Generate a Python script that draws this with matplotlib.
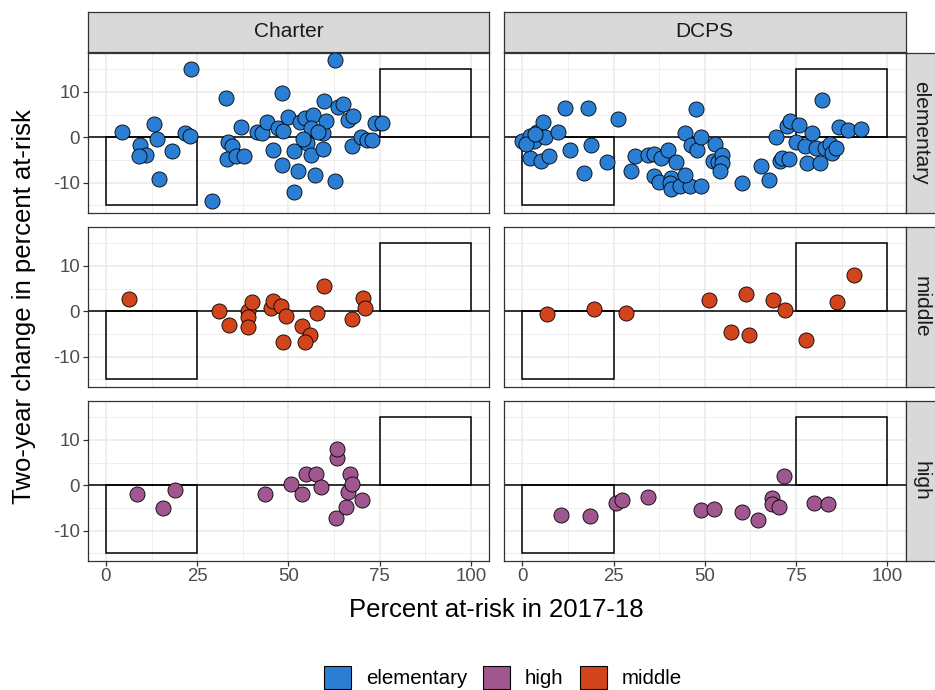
import matplotlib
matplotlib.use("Agg")
import matplotlib.pyplot as plt
from matplotlib.patches import Rectangle, Patch

plt.rcParams['font.family'] = ['Liberation Sans', 'DejaVu Sans']
plt.rcParams['axes.unicode_minus'] = False

# ---------------- data ----------------
sectors = ["Charter", "DCPS"]
levels = ["elementary", "middle", "high"]
legend_levels = ["elementary", "high", "middle"]
level_colors = {"elementary": "#2A7FD5", "high": "#A0578F", "middle": "#D2441C"}

charter_elementary_x = [4.4, 13.3, 9.2, 11.0, 9.1, 13.9, 18.2, 14.6, 21.7, 22.9, 23.3, 29.0,
                        32.8, 33.5, 34.6, 33.1, 35.5, 37.8, 37.1, 41.3, 42.8, 44.0, 45.9, 47.2,
                        48.4, 48.3, 49.8, 48.3, 51.5, 52.5, 51.5, 53.1, 54.5, 56.8, 56.3, 54.5,
                        55.0, 56.3, 57.4, 59.6, 59.5, 60.4, 59.8, 63.6, 64.9, 62.8, 62.8, 66.3,
                        67.7, 67.4, 69.9, 71.6, 72.9, 73.8, 75.7, 58.1, 54.0]
charter_elementary_y = [1.2, 2.9, -1.7, -3.9, -4.2, -0.4, -2.9, -9.1, 1.0, 0.2, 15.0, -14.1,
                        8.7, -1.0, -1.8, -4.8, -4.2, -4.0, 2.3, 1.2, 0.9, 3.4, -2.8, 2.0,
                        1.5, 9.7, 4.5, -6.1, -3.1, -7.5, -12.1, 3.4, 4.2, 4.9, 2.0, -0.7,
                        -1.2, -3.9, -8.3, 0.9, -2.5, 3.7, 8.0, 6.7, 7.3, 17.1, -9.7, 3.8,
                        4.7, -2.0, 0.0, -0.6, -0.6, 3.1, 3.2, 1.2, -0.3]

dcps_elementary_x = [0.0, 2.0, 4.0, 5.7, 3.1, 6.3, 2.2, 5.1, 7.2, 9.9, 11.6, 13.1, 18.0, 18.9,
                     16.8, 23.3, 26.1, 29.7, 30.9, 34.5, 36.1, 37.9, 40.0, 42.1, 36.1, 37.6,
                     40.7, 40.5, 40.7, 43.2, 45.9, 48.9, 44.6, 44.6, 47.5, 46.2, 48.0, 49.1,
                     52.8, 52.3, 53.7, 54.6, 54.6, 54.1, 60.1, 65.3, 67.5, 69.5, 70.6, 71.3,
                     73.1, 72.6, 73.3, 75.7, 75.1, 77.4, 78.0, 79.5, 81.7, 80.6, 82.2, 82.9,
                     84.2, 84.9, 85.9, 86.8, 89.2, 92.9, 1.0, 3.5]
dcps_elementary_y = [-0.7, 0.3, 1.2, 3.4, -0.7, 0.1, -4.6, -5.3, -4.2, 1.1, 6.4, -2.8, 6.5, -1.7,
                     -7.8, -5.5, 4.0, -7.5, -4.0, -3.9, -3.7, -4.6, -2.8, -5.5, -8.5, -9.9,
                     -9.0, -10.1, -11.4, -10.8, -10.8, -10.7, -8.3, 1.0, 6.2, -1.7, -2.8, 0.0,
                     -1.5, -5.3, -5.5, -3.9, -5.7, -7.5, -10.1, -6.3, -9.4, 0.0, -5.3, -4.6,
                     -4.8, 2.5, 3.7, 2.7, -1.0, -2.0, -5.7, 0.9, -5.7, -2.4, 8.3, -2.4,
                     -1.5, -3.5, -2.4, 2.2, 1.6, 1.8, -1.5, 0.8]

charter_middle_x = [6.2, 31.1, 33.7, 39.0, 39.9, 39.0, 39.0, 45.2, 45.8, 47.9, 49.3, 48.5,
                    53.6, 56.0, 54.6, 57.7, 59.7, 67.4, 70.4, 71.1]
charter_middle_y = [2.8, 0.0, -2.9, 0.0, 2.0, -1.3, -3.5, 0.7, 2.2, 1.1, -1.1, -6.8,
                    -3.3, -5.1, -6.7, -0.4, 5.5, -1.7, 2.9, 0.7]

dcps_middle_x = [6.7, 19.7, 28.3, 51.2, 61.4, 57.3, 62.1, 68.6, 72.1, 77.8, 86.2, 90.9]
dcps_middle_y = [-0.6, 0.5, -0.3, 2.4, 3.9, -4.5, -5.3, 2.5, 0.2, -6.4, 2.0, 8.0]

charter_high_x = [8.5, 15.6, 18.9, 43.5, 50.8, 53.7, 54.7, 57.5, 58.8, 63.3, 63.4, 63.1,
                  65.7, 66.3, 66.9, 67.5, 70.1]
charter_high_y = [-1.8, -4.9, -1.0, -1.8, 0.4, -1.9, 2.4, 2.4, -0.3, 6.0, 8.0, -7.3,
                  -4.7, -1.4, 2.4, 0.4, -3.2]

dcps_high_x = [10.6, 18.6, 25.7, 27.3, 34.5, 49.1, 52.5, 60.3, 64.6, 68.3, 68.5, 70.4,
               71.7, 79.9, 83.8]
dcps_high_y = [-6.5, -6.7, -3.8, -3.2, -2.5, -5.4, -5.1, -5.8, -7.6, -2.7, -4.2, -4.7,
               2.1, -3.8, -4.2]

data = {
    ("Charter", "elementary"): (charter_elementary_x, charter_elementary_y),
    ("DCPS", "elementary"): (dcps_elementary_x, dcps_elementary_y),
    ("Charter", "middle"): (charter_middle_x, charter_middle_y),
    ("DCPS", "middle"): (dcps_middle_x, dcps_middle_y),
    ("Charter", "high"): (charter_high_x, charter_high_y),
    ("DCPS", "high"): (dcps_high_x, dcps_high_y),
}

# reference boxes (low-need losing, high-need gaining)
box_low = (0, -15, 25, 15)      # x, y, width, height
box_high = (75, 0, 25, 15)

x_ticks = [0, 25, 50, 75, 100]
y_ticks = [-10, 0, 10]
x_minor = [12.5, 37.5, 62.5, 87.5]
y_minor = [-15, -5, 5, 15]

# ---------------- layout ----------------
W, H = 935, 690
fig = plt.figure(figsize=(W / 100, H / 100), dpi=100)
fig.patch.set_facecolor("white")

col_x = [87.7, 504.0]
panel_w = 401.5
row_top = [52.7, 226.7, 400.7]
panel_h = 160.0

def fx(px):
    return px / W

def fy(py):
    return 1 - py / H

border_col = "#333333"

for r, lev in enumerate(levels):
    for c, sec in enumerate(sectors):
        ax = fig.add_axes([fx(col_x[c]), fy(row_top[r] + panel_h), panel_w / W, panel_h / H])
        ax.set_xlim(-5, 105)
        ax.set_ylim(-16.6, 18.65)
        ax.set_xticks(x_ticks)
        ax.set_yticks(y_ticks)
        ax.set_xticks(x_minor, minor=True)
        ax.set_yticks(y_minor, minor=True)
        ax.grid(which="major", color="#EBEBEB", linewidth=1.2, zorder=0)
        ax.grid(which="minor", color="#EBEBEB", linewidth=0.6, zorder=0)
        ax.set_axisbelow(True)
        for s in ax.spines.values():
            s.set_color(border_col)
            s.set_linewidth(0.9)
        ax.tick_params(which="minor", length=0)
        ax.tick_params(which="major", length=3.5, width=0.9, color=border_col,
                       labelcolor="#4D4D4D", labelsize=13.4, pad=2)
        if c != 0:
            ax.tick_params(axis="y", which="major", length=0, labelleft=False)
        if r != len(levels) - 1:
            ax.tick_params(axis="x", which="major", length=0, labelbottom=False)

        for bx, by, bw, bh in (box_low, box_high):
            ax.add_patch(Rectangle((bx, by), bw, bh, fill=False, edgecolor="black",
                                   linewidth=1.1, zorder=2))
        ax.axhline(0, color="black", linewidth=1.1, zorder=2)

        xs, ys = data[(sec, lev)]
        ax.scatter(xs, ys, s=118, c=level_colors[lev], edgecolors="black",
                   linewidths=0.6, zorder=3)

        # top strips
        if r == 0:
            sax = fig.add_axes([fx(col_x[c]), fy(row_top[0] - 0.5), panel_w / W, 40.5 / H])
            sax.set_facecolor("#D9D9D9")
            sax.set_xticks([]); sax.set_yticks([])
            for s in sax.spines.values():
                s.set_color(border_col); s.set_linewidth(0.9)
            sax.text(0.5, 0.5, sec, ha="center", va="center", fontsize=15,
                     color="#1A1A1A", transform=sax.transAxes)
        # right strips
        if c == 1:
            rax = fig.add_axes([fx(col_x[1] + panel_w + 0.5), fy(row_top[r] + panel_h),
                                32 / W, panel_h / H])
            rax.set_facecolor("#D9D9D9")
            rax.set_xticks([]); rax.set_yticks([])
            for s in rax.spines.values():
                s.set_color(border_col); s.set_linewidth(0.9)
            rax.text(0.47, 0.5, lev, ha="center", va="center", rotation=-90, fontsize=15,
                     color="#1A1A1A", transform=rax.transAxes)

# axis titles
fig.text(fx(24), fy((row_top[0] + row_top[2] + panel_h) / 2), "Two-year change in percent at-risk",
         rotation=90, ha="center", va="center", fontsize=18.5, color="black")
fig.text(fx((col_x[0] + col_x[1] + panel_w) / 2), fy(610), "Percent at-risk in 2017-18",
         ha="center", va="center", fontsize=18.5, color="black")

# legend
handles = [Patch(facecolor=level_colors[l], edgecolor="black", linewidth=0.8) for l in legend_levels]
fig.legend(handles, legend_levels, loc="upper center", bbox_to_anchor=(fx(503), fy(666)),
           ncol=3, frameon=False, fontsize=14.8, handlelength=1.3, handleheight=1.35,
           handletextpad=0.72, columnspacing=0.8, borderpad=0, borderaxespad=0)

fig.savefig("out.png", dpi=100)
